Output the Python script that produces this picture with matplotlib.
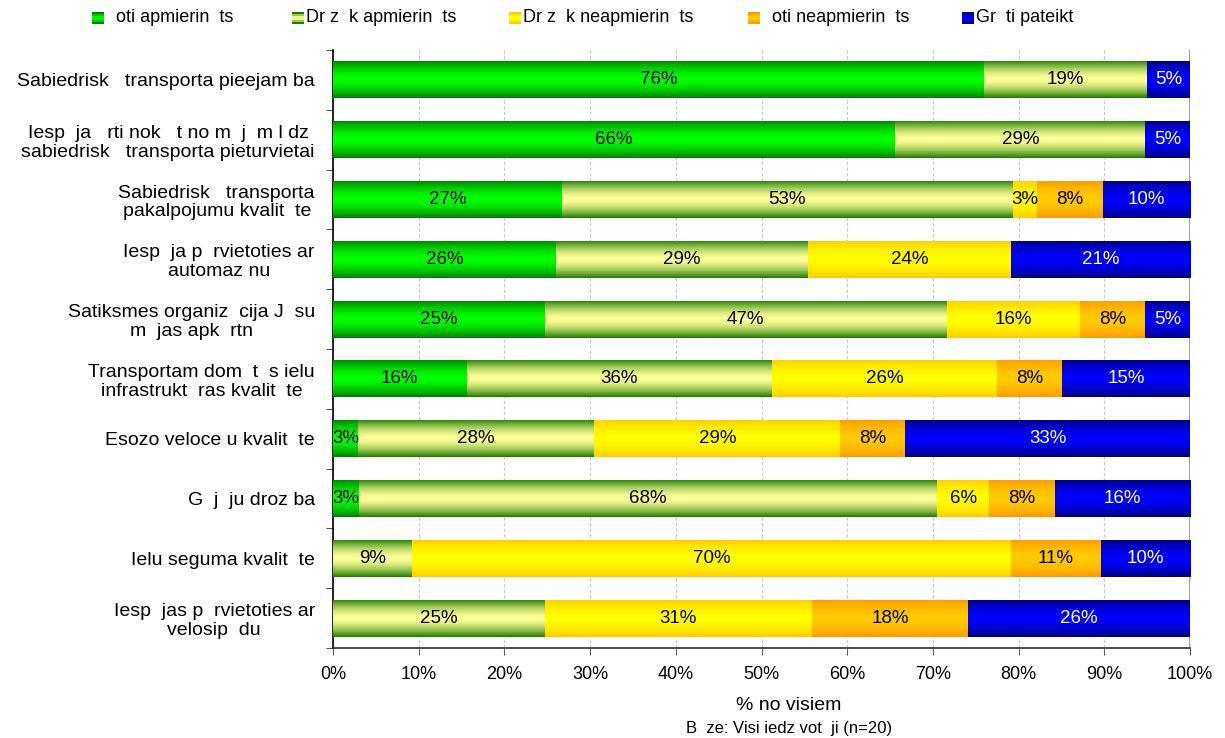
import matplotlib
matplotlib.use("Agg")

import numpy as np
import matplotlib.pyplot as plt
from matplotlib.patches import Rectangle
from matplotlib.ticker import FixedLocator, PercentFormatter

plt.rcParams["font.family"] = ["Liberation Sans", "DejaVu Sans"]

# dati (no augšas uz leju); trūkstošie burti attēlā redzami kā tukšumi
categories = [
    "Sabiedrisk   transporta pieejam ba",
    "Iesp  ja   rti nok   t no m  j  m l dz\nsabiedrisk   transporta pieturvietai",
    "Sabiedrisk   transporta\npakalpojumu kvalit  te",
    "Iesp  ja p  rvietoties ar\nautomaz nu",
    "Satiksmes organiz  cija J  su\nm  jas apk  rtn",
    "Transportam dom  t  s ielu\ninfrastrukt  ras kvalit  te",
    "Esozo veloce u kvalit  te",
    "G  j  ju droz ba",
    "Ielu seguma kvalit  te",
    "Iesp  jas p  rvietoties ar\nvelosip  du",
]
series_names = ["  oti apmierin  ts", "Dr z  k apmierin  ts", "Dr z  k neapmierin  ts",
                "  oti neapmierin  ts", "Gr  ti pateikt"]

loti_apm = [76.0, 65.6, 26.7, 26.0, 24.7, 15.6, 2.9, 3.0, 0.0, 0.0]
drizak_apm = [19.0, 29.2, 52.6, 29.4, 46.9, 35.6, 27.6, 67.5, 9.2, 24.7]
drizak_neapm = [0.0, 0.0, 2.9, 23.7, 15.6, 26.3, 28.7, 6.1, 69.9, 31.2]
loti_neapm = [0.0, 0.0, 7.6, 0.0, 7.6, 7.6, 7.6, 7.6, 10.5, 18.2]
gruti = [5.0, 5.2, 10.2, 20.9, 5.2, 14.9, 33.2, 15.8, 10.4, 25.9]
values = [loti_apm, drizak_apm, drizak_neapm, loti_neapm, gruti]

# krāsas: (mala, centrs)
grad_colors = [
    ("#008000", "#00ff00"),
    ("#1f7d00", "#ffff99"),
    ("#ffcc00", "#ffff00"),
    ("#ff9900", "#ffcc00"),
    ("#000080", "#0000ff"),
]
text_colors = ["black", "black", "black", "black", "white"]

W, H = 1225, 738


def hex2rgb(h):
    return np.array([int(h[i:i + 2], 16) / 255 for i in (1, 3, 5)])


def make_grad(edge, center, n=64):
    t = np.abs(np.linspace(-1, 1, n)) ** 1.6
    e, c = hex2rgb(edge), hex2rgb(center)
    return (c[None, :] * (1 - t[:, None]) + e[None, :] * t[:, None])[:, None, :]


fig = plt.figure(figsize=(W / 100, H / 100), dpi=100)
ax = fig.add_axes([333 / W, 1 - 648 / H, (1190 - 333) / W, (648 - 50) / H])

y = np.arange(len(categories))
left = np.zeros(len(categories))
for k, vals in enumerate(values):
    bars = ax.barh(y, vals, left=left, height=0.62, color=grad_colors[k][1],
                   edgecolor="none", zorder=2)
    grad = make_grad(*grad_colors[k])
    for b, v in zip(bars, vals):
        if v <= 0:
            continue
        x0, y0, w, h = b.get_x(), b.get_y(), b.get_width(), b.get_height()
        im = ax.imshow(grad, extent=[x0, x0 + w, y0 + h, y0], aspect="auto",
                       interpolation="bilinear", zorder=3)
        im.set_clip_path(b)
        ax.text(x0 + w / 2, y0 + h / 2, f"{int(v + 0.5)}%", ha="center", va="center",
                fontsize=13.5, color=text_colors[k], zorder=4)
    left = left + np.array(vals)

ax.set_xlim(0, 100)
ax.set_ylim(len(categories) - 0.5, -0.5)
ax.xaxis.set_major_locator(FixedLocator(np.arange(0, 101, 10)))
ax.xaxis.set_major_formatter(PercentFormatter(decimals=0))
ax.set_yticks(y)
ax.set_yticklabels(categories, fontsize=14, multialignment="center", linespacing=1.15)
ax.yaxis.set_minor_locator(FixedLocator(np.arange(-0.5, len(categories), 1)))
ax.tick_params(axis="y", which="major", length=0, pad=13)
ax.tick_params(axis="y", which="minor", length=5, direction="out", color="#303030")
ax.tick_params(axis="x", labelsize=13, length=5, direction="out", color="#606060", pad=8)

ax.grid(axis="x", color="#c8c8c8", linestyle=(0, (3, 2)), linewidth=0.8, zorder=0)
ax.axvline(100, color="#909090", linewidth=2, zorder=1)
for s in ("top", "right"):
    ax.spines[s].set_visible(False)
ax.spines["left"].set_linewidth(1.2)
ax.spines["bottom"].set_linewidth(1.2)
ax.spines["bottom"].set_color("#303030")

# ass nosaukums un bāze
fig.text(789 / W, 1 - 705 / H, "% no visiem", ha="center", va="center", fontsize=14)
fig.text(789 / W, 1 - 728 / H, "B  ze: Visi iedz vot  ji (n=20)",
         ha="center", va="center", fontsize=12)

# leģenda (manuāli, ar gradienta kvadrātiņiem)
legend_x = [92, 292, 509, 748, 962]
box = 12
for k, name in enumerate(series_names):
    g = make_grad(*grad_colors[k], n=6)[:, 0, :]
    x0 = legend_x[k] / W
    for i in range(6):
        fig.add_artist(Rectangle((x0, 1 - (12 + box * (i + 1) / 6) / H), box / W, box / 6 / H + 0.0005,
                                 facecolor=g[i], edgecolor="none", transform=fig.transFigure))
    fig.text((legend_x[k] + box + 2) / W, 1 - 18 / H, name, ha="left", va="center", fontsize=13)

fig.savefig("out.png", dpi=100)
